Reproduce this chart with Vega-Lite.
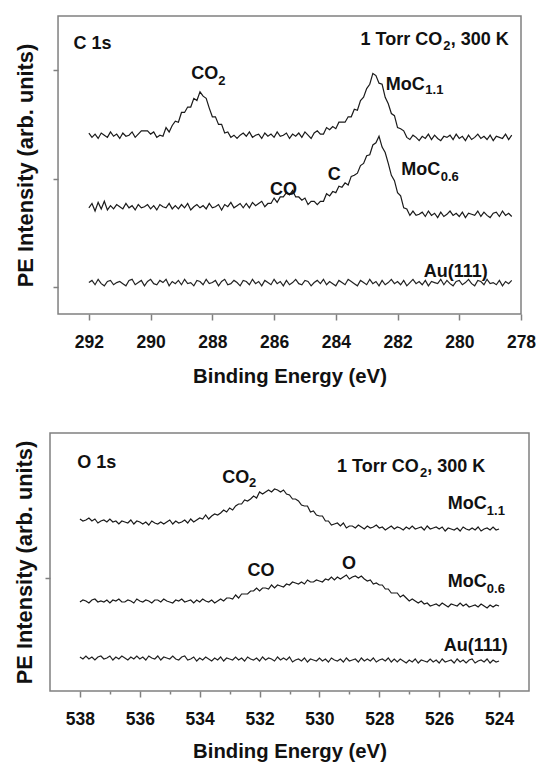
{
"$schema": "https://vega.github.io/schema/vega-lite/v6.json",
"background": "white",
"padding": {"left": 13, "top": 15, "right": 0, "bottom": 0},
"spacing": 45,
"config": {
  "view": {"stroke": "#808080", "strokeWidth": 1.5},
  "font": "Liberation Sans",
  "axis": {"labelFont": "Liberation Sans", "titleFont": "Liberation Sans", "labelFontWeight": "bold", "titleFontWeight": "bold", "labelColor": "#111111", "titleColor": "#111111", "tickColor": "#808080", "tickWidth": 1.5, "domain": false, "grid": false},
  "text": {"font": "Liberation Sans", "fontWeight": "bold", "color": "#111111"}
},
"datasets": {
  "c1s": [
{"e":292.0,"a":142,"b":73,"c":4},{"e":291.9,"a":138,"b":77,"c":6},{"e":291.8,"a":141,"b":70,"c":2},{"e":291.7,"a":137,"b":78,"c":7},{"e":291.6,"a":142,"b":72,"c":3},{"e":291.5,"a":140,"b":79,"c":1},{"e":291.4,"a":138,"b":71,"c":5},{"e":291.3,"a":143,"b":75,"c":6},{"e":291.2,"a":139,"b":72,"c":2},{"e":291.1,"a":141,"b":76,"c":4},
{"e":291.0,"a":137,"b":74,"c":5},{"e":290.9,"a":142,"b":72,"c":3},{"e":290.8,"a":139,"b":77,"c":1},{"e":290.7,"a":140,"b":73,"c":6},{"e":290.6,"a":143,"b":75,"c":7},{"e":290.5,"a":138,"b":71,"c":2},{"e":290.4,"a":141,"b":76,"c":4},{"e":290.3,"a":144,"b":73,"c":6},{"e":290.2,"a":144,"b":74,"c":1},{"e":290.1,"a":144,"b":76,"c":5},
{"e":290.0,"a":141,"b":72,"c":7},{"e":289.9,"a":143,"b":75,"c":3},{"e":289.8,"a":138,"b":71,"c":2},{"e":289.7,"a":140,"b":76,"c":6},{"e":289.6,"a":139,"b":74,"c":4},{"e":289.5,"a":147,"b":73,"c":7},{"e":289.4,"a":143,"b":77,"c":1},{"e":289.3,"a":149,"b":72,"c":5},{"e":289.2,"a":153,"b":75,"c":3},{"e":289.1,"a":152,"b":72,"c":6},
{"e":289.0,"a":161,"b":76,"c":2},{"e":288.9,"a":161,"b":73,"c":7},{"e":288.8,"a":166,"b":77,"c":3},{"e":288.7,"a":166,"b":71,"c":4},{"e":288.6,"a":174,"b":74,"c":1},{"e":288.5,"a":172,"b":76,"c":6},{"e":288.4,"a":180,"b":73,"c":5},{"e":288.3,"a":176,"b":75,"c":2},{"e":288.2,"a":174,"b":72,"c":7},{"e":288.1,"a":165,"b":77,"c":3},
{"e":288.0,"a":157,"b":73,"c":4},{"e":287.9,"a":157,"b":74,"c":6},{"e":287.8,"a":150,"b":76,"c":1},{"e":287.7,"a":150,"b":71,"c":5},{"e":287.6,"a":142,"b":76,"c":7},{"e":287.5,"a":143,"b":74,"c":2},{"e":287.4,"a":138,"b":78,"c":3},{"e":287.3,"a":140,"b":73,"c":6},{"e":287.2,"a":137,"b":75,"c":4},{"e":287.1,"a":140,"b":77,"c":1},
{"e":287.0,"a":142,"b":73,"c":6},{"e":286.9,"a":139,"b":77,"c":5},{"e":286.8,"a":143,"b":73,"c":2},{"e":286.7,"a":138,"b":78,"c":7},{"e":286.6,"a":140,"b":75,"c":3},{"e":286.5,"a":141,"b":77,"c":5},{"e":286.4,"a":137,"b":79,"c":1},{"e":286.3,"a":142,"b":74,"c":6},{"e":286.2,"a":139,"b":77,"c":4},{"e":286.1,"a":141,"b":77,"c":2},
{"e":286.0,"a":138,"b":82,"c":7},{"e":285.9,"a":143,"b":78,"c":3},{"e":285.8,"a":139,"b":83,"c":5},{"e":285.7,"a":140,"b":83,"c":1},{"e":285.6,"a":142,"b":87,"c":6},{"e":285.5,"a":137,"b":85,"c":2},{"e":285.4,"a":141,"b":89,"c":4},{"e":285.3,"a":139,"b":83,"c":7},{"e":285.2,"a":142,"b":83,"c":3},{"e":285.1,"a":138,"b":80,"c":2},
{"e":285.0,"a":143,"b":82,"c":6},{"e":284.9,"a":140,"b":76,"c":5},{"e":284.8,"a":137,"b":79,"c":1},{"e":284.7,"a":142,"b":79,"c":4},{"e":284.6,"a":144,"b":76,"c":6},{"e":284.5,"a":141,"b":79,"c":3},{"e":284.4,"a":141,"b":79,"c":7},{"e":284.3,"a":147,"b":86,"c":2},{"e":284.2,"a":145,"b":84,"c":5},{"e":284.1,"a":148,"b":88,"c":3},
{"e":284.0,"a":146,"b":87,"c":1},{"e":283.9,"a":152,"b":93,"c":6},{"e":283.8,"a":152,"b":92,"c":4},{"e":283.7,"a":152,"b":96,"c":2},{"e":283.6,"a":157,"b":94,"c":7},{"e":283.5,"a":157,"b":102,"c":5},{"e":283.4,"a":164,"b":103,"c":3},{"e":283.3,"a":163,"b":105,"c":1},{"e":283.2,"a":172,"b":112,"c":6},{"e":283.1,"a":175,"b":114,"c":4},
{"e":283.0,"a":183,"b":121,"c":2},{"e":282.9,"a":187,"b":122,"c":7},{"e":282.8,"a":197,"b":131,"c":3},{"e":282.7,"a":195,"b":133,"c":5},{"e":282.6,"a":188,"b":139,"c":1},{"e":282.5,"a":187,"b":129,"c":6},{"e":282.4,"a":175,"b":124,"c":2},{"e":282.3,"a":169,"b":114,"c":4},{"e":282.2,"a":160,"b":103,"c":7},{"e":282.1,"a":158,"b":98,"c":3},
{"e":282.0,"a":147,"b":87,"c":5},{"e":281.9,"a":146,"b":84,"c":2},{"e":281.8,"a":144,"b":73,"c":6},{"e":281.7,"a":138,"b":72,"c":1},{"e":281.6,"a":136,"b":66,"c":4},{"e":281.5,"a":140,"b":70,"c":7},{"e":281.4,"a":138,"b":66,"c":3},{"e":281.3,"a":135,"b":67,"c":5},{"e":281.2,"a":139,"b":69,"c":2},{"e":281.1,"a":137,"b":65,"c":6},
{"e":281.0,"a":141,"b":70,"c":1},{"e":280.9,"a":136,"b":66,"c":5},{"e":280.8,"a":140,"b":68,"c":4},{"e":280.7,"a":137,"b":64,"c":3},{"e":280.6,"a":135,"b":69,"c":7},{"e":280.5,"a":139,"b":65,"c":2},{"e":280.4,"a":138,"b":67,"c":6},{"e":280.3,"a":140,"b":70,"c":3},{"e":280.2,"a":136,"b":66,"c":1},{"e":280.1,"a":141,"b":68,"c":5},
{"e":280.0,"a":137,"b":65,"c":6},{"e":279.9,"a":139,"b":69,"c":2},{"e":279.8,"a":135,"b":64,"c":4},{"e":279.7,"a":140,"b":68,"c":7},{"e":279.6,"a":136,"b":67,"c":3},{"e":279.5,"a":138,"b":66,"c":1},{"e":279.4,"a":141,"b":70,"c":6},{"e":279.3,"a":137,"b":65,"c":5},{"e":279.2,"a":139,"b":69,"c":2},{"e":279.1,"a":136,"b":66,"c":7},
{"e":279.0,"a":140,"b":64,"c":3},{"e":278.9,"a":135,"b":68,"c":4},{"e":278.8,"a":139,"b":69,"c":2},{"e":278.7,"a":138,"b":65,"c":6},{"e":278.6,"a":137,"b":70,"c":1},{"e":278.5,"a":141,"b":66,"c":5},{"e":278.4,"a":136,"b":68,"c":3},{"e":278.3,"a":140,"b":65,"c":6}
  ],
  "o1s": [
{"e":538.0,"a":159,"b":76,"c":21},{"e":537.9,"a":157,"b":78,"c":19},{"e":537.8,"a":158,"b":77,"c":22},{"e":537.7,"a":160,"b":75,"c":19},{"e":537.6,"a":157,"b":78,"c":21},{"e":537.5,"a":159,"b":79,"c":18},{"e":537.4,"a":155,"b":76,"c":21},{"e":537.3,"a":157,"b":77,"c":22},{"e":537.2,"a":158,"b":76,"c":19},{"e":537.1,"a":156,"b":78,"c":20},
{"e":537.0,"a":159,"b":75,"c":22},{"e":536.9,"a":156,"b":78,"c":18},{"e":536.8,"a":157,"b":77,"c":21},{"e":536.7,"a":154,"b":79,"c":19},{"e":536.6,"a":157,"b":76,"c":22},{"e":536.5,"a":156,"b":76,"c":20},{"e":536.4,"a":155,"b":78,"c":18},{"e":536.3,"a":158,"b":77,"c":21},{"e":536.2,"a":154,"b":75,"c":19},{"e":536.1,"a":157,"b":79,"c":22},
{"e":536.0,"a":156,"b":77,"c":19},{"e":535.9,"a":154,"b":76,"c":21},{"e":535.8,"a":156,"b":78,"c":18},{"e":535.7,"a":153,"b":77,"c":22},{"e":535.6,"a":157,"b":75,"c":20},{"e":535.5,"a":155,"b":78,"c":19},{"e":535.4,"a":154,"b":78,"c":22},{"e":535.3,"a":156,"b":76,"c":18},{"e":535.2,"a":154,"b":79,"c":21},{"e":535.1,"a":156,"b":77,"c":20},
{"e":535.0,"a":158,"b":76,"c":19},{"e":534.9,"a":154,"b":75,"c":22},{"e":534.8,"a":157,"b":78,"c":19},{"e":534.7,"a":155,"b":77,"c":18},{"e":534.6,"a":156,"b":79,"c":21},{"e":534.5,"a":158,"b":76,"c":22},{"e":534.4,"a":155,"b":77,"c":18},{"e":534.3,"a":159,"b":78,"c":19},{"e":534.2,"a":156,"b":75,"c":21},{"e":534.1,"a":158,"b":78,"c":17},
{"e":534.0,"a":160,"b":76,"c":20},{"e":533.9,"a":159,"b":79,"c":18},{"e":533.8,"a":163,"b":77,"c":21},{"e":533.7,"a":159,"b":76,"c":19},{"e":533.6,"a":162,"b":78,"c":17},{"e":533.5,"a":164,"b":75,"c":20},{"e":533.4,"a":163,"b":77,"c":18},{"e":533.3,"a":165,"b":79,"c":21},{"e":533.2,"a":168,"b":77,"c":17},{"e":533.1,"a":166,"b":80,"c":20},
{"e":533.0,"a":170,"b":80,"c":19},{"e":532.9,"a":168,"b":79,"c":18},{"e":532.8,"a":172,"b":83,"c":21},{"e":532.7,"a":174,"b":80,"c":18},{"e":532.6,"a":174,"b":84,"c":20},{"e":532.5,"a":178,"b":84,"c":17},{"e":532.4,"a":177,"b":84,"c":21},{"e":532.3,"a":179,"b":87,"c":19},{"e":532.2,"a":182,"b":87,"c":18},{"e":532.1,"a":180,"b":90,"c":20},
{"e":532.0,"a":186,"b":87,"c":17},{"e":531.9,"a":184,"b":90,"c":21},{"e":531.8,"a":186,"b":90,"c":18},{"e":531.7,"a":188,"b":89,"c":20},{"e":531.6,"a":186,"b":93,"c":19},{"e":531.5,"a":189,"b":90,"c":17},{"e":531.4,"a":188,"b":93,"c":21},{"e":531.3,"a":186,"b":92,"c":18},{"e":531.2,"a":188,"b":91,"c":20},{"e":531.1,"a":184,"b":94,"c":18},
{"e":531.0,"a":183,"b":93,"c":21},{"e":530.9,"a":179,"b":96,"c":16},{"e":530.8,"a":179,"b":95,"c":18},{"e":530.7,"a":177,"b":94,"c":19},{"e":530.6,"a":173,"b":96,"c":17},{"e":530.5,"a":172,"b":94,"c":20},{"e":530.4,"a":172,"b":98,"c":16},{"e":530.3,"a":166,"b":96,"c":19},{"e":530.2,"a":167,"b":96,"c":18},{"e":530.1,"a":163,"b":98,"c":17},
{"e":530.0,"a":162,"b":97,"c":20},{"e":529.9,"a":162,"b":96,"c":17},{"e":529.8,"a":157,"b":99,"c":19},{"e":529.7,"a":157,"b":98,"c":16},{"e":529.6,"a":153,"b":101,"c":20},{"e":529.5,"a":154,"b":98,"c":18},{"e":529.4,"a":155,"b":101,"c":17},{"e":529.3,"a":152,"b":99,"c":19},{"e":529.2,"a":155,"b":101,"c":16},{"e":529.1,"a":150,"b":103,"c":20},
{"e":529.0,"a":152,"b":99,"c":17},{"e":528.9,"a":152,"b":101,"c":18},{"e":528.8,"a":150,"b":102,"c":19},{"e":528.7,"a":153,"b":100,"c":16},{"e":528.6,"a":151,"b":102,"c":20},{"e":528.5,"a":149,"b":99,"c":17},{"e":528.4,"a":152,"b":97,"c":19},{"e":528.3,"a":150,"b":98,"c":17},{"e":528.2,"a":151,"b":94,"c":20},{"e":528.1,"a":153,"b":95,"c":16},
{"e":528.0,"a":150,"b":93,"c":18},{"e":527.9,"a":151,"b":93,"c":19},{"e":527.8,"a":148,"b":89,"c":17},{"e":527.7,"a":150,"b":89,"c":20},{"e":527.6,"a":152,"b":85,"c":16},{"e":527.5,"a":149,"b":85,"c":19},{"e":527.4,"a":151,"b":85,"c":16},{"e":527.3,"a":150,"b":81,"c":19},{"e":527.2,"a":148,"b":83,"c":17},{"e":527.1,"a":151,"b":80,"c":15},
{"e":527.0,"a":149,"b":77,"c":18},{"e":526.9,"a":152,"b":79,"c":16},{"e":526.8,"a":149,"b":77,"c":19},{"e":526.7,"a":150,"b":75,"c":15},{"e":526.6,"a":151,"b":77,"c":18},{"e":526.5,"a":148,"b":74,"c":17},{"e":526.4,"a":152,"b":75,"c":16},{"e":526.3,"a":149,"b":72,"c":19},{"e":526.2,"a":150,"b":73,"c":16},{"e":526.1,"a":151,"b":74,"c":18},
{"e":526.0,"a":149,"b":72,"c":15},{"e":525.9,"a":151,"b":75,"c":19},{"e":525.8,"a":147,"b":73,"c":16},{"e":525.7,"a":150,"b":71,"c":17},{"e":525.6,"a":149,"b":74,"c":18},{"e":525.5,"a":148,"b":73,"c":15},{"e":525.4,"a":150,"b":72,"c":19},{"e":525.3,"a":147,"b":75,"c":16},{"e":525.2,"a":151,"b":72,"c":18},{"e":525.1,"a":149,"b":74,"c":15},
{"e":525.0,"a":148,"b":71,"c":18},{"e":524.9,"a":150,"b":72,"c":19},{"e":524.8,"a":148,"b":73,"c":15},{"e":524.7,"a":151,"b":71,"c":17},{"e":524.6,"a":147,"b":74,"c":18},{"e":524.5,"a":149,"b":72,"c":16},{"e":524.4,"a":150,"b":70,"c":19},{"e":524.3,"a":148,"b":73,"c":15},{"e":524.2,"a":151,"b":71,"c":18},{"e":524.1,"a":148,"b":73,"c":16},
{"e":524.0,"a":149,"b":72,"c":17}
  ],
  "c1s_frame": [
{"e1":293,"e2":278,"v1":-25,"v2":250}
  ],
  "c1s_txt": [
{"e":292.5,"v":219.5,"t":"C 1s"},
{"e":283.2,"v":223.2,"t":"1 Torr CO"},
{"e":280.28,"v":223.2,"t":", 300 K"},
{"e":288.68,"v":191.6,"t":"CO"},
{"e":282.38,"v":181.7,"t":"MoC"},
{"e":281.88,"v":103.3,"t":"MoC"},
{"e":284.26,"v":98.7,"t":"C"},
{"e":286.13,"v":84.8,"t":"CO"},
{"e":281.15,"v":9.4,"t":"Au(111)"}
  ],
  "c1s_sub": [
{"e":280.52,"v":218.6,"t":"2"},
{"e":287.81,"v":186.3,"t":"2"},
{"e":281.1,"v":177.6,"t":"1.1"},
{"e":280.6,"v":97.7,"t":"0.6"}
  ],
  "o1s_txt": [
{"e":538.09,"v":210.3,"t":"O 1s"},
{"e":529.41,"v":206.3,"t":"1 Torr CO"},
{"e":526.4,"v":206.3,"t":", 300 K"},
{"e":533.25,"v":195.3,"t":"CO"},
{"e":525.71,"v":168.7,"t":"MoC"},
{"e":532.4,"v":102,"t":"CO"},
{"e":529.25,"v":108.7,"t":"O"},
{"e":525.71,"v":90.7,"t":"MoC"},
{"e":525.85,"v":27.3,"t":"Au(111)"}
  ],
  "o1s_sub": [
{"e":526.64,"v":201.3,"t":"2"},
{"e":532.35,"v":190.7,"t":"2"},
{"e":524.41,"v":163,"t":"1.1"},
{"e":524.41,"v":84.7,"t":"0.6"}
  ]
},
"vconcat": [
  {
    "width": 471, "height": 298,
    "view": {"stroke": null},
    "layer": [
      {"data": {"name": "c1s_frame"},
       "mark": {"type": "rect", "fill": "#ffffff", "fillOpacity": 0, "stroke": "#808080", "strokeWidth": 1.5},
       "encoding": {
         "x": {"field": "e1", "type": "quantitative",
           "scale": {"domain": [278, 293.26], "reverse": true, "nice": false, "zero": false},
           "axis": {"values": [278,279,280,281,282,283,284,285,286,287,288,289,290,291,292],
             "labelExpr": "datum.value % 2 === 0 ? datum.label : ''",
             "tickSize": {"condition": {"test": "datum.value % 2 === 0", "value": 6}, "value": 3},
             "labelFontSize": 17.5, "labelPadding": 13, "labelFlush": false, "labelOverlap": false,
             "title": "Binding Energy (eV)", "titleFontSize": 20.3, "titlePadding": 16, "titleX": 239.5}},
         "x2": {"field": "e2"},
         "y": {"field": "v1", "type": "quantitative",
           "scale": {"domain": [-25, 250], "nice": false, "zero": false},
           "axis": {"values": [0, 100, 200], "labels": false, "tickSize": 5, "offset": -8,
             "title": "PE Intensity (arb. units)", "titleFontSize": 21.8, "titlePadding": 14.5}},
         "y2": {"field": "v2"}
       }},
      {"data": {"name": "c1s"},
       "transform": [{"fold": ["a", "b", "c"], "as": ["s", "v"]}],
       "mark": {"type": "line", "strokeWidth": 1.2},
       "encoding": {
         "x": {"field": "e", "type": "quantitative"},
         "y": {"field": "v", "type": "quantitative"},
         "color": {"field": "s", "type": "nominal", "scale": {"domain": ["a","b","c"], "range": ["#1a1a1a","#1a1a1a","#222222"]}, "legend": null}}},
      {"data": {"name": "c1s_txt"},
       "mark": {"type": "text", "fontSize": 18, "align": "left", "baseline": "alphabetic"},
       "encoding": {"x": {"field": "e", "type": "quantitative"}, "y": {"field": "v", "type": "quantitative"}, "text": {"field": "t"}}},
      {"data": {"name": "c1s_sub"},
       "mark": {"type": "text", "fontSize": 13, "align": "left", "baseline": "alphabetic"},
       "encoding": {"x": {"field": "e", "type": "quantitative"}, "y": {"field": "v", "type": "quantitative"}, "text": {"field": "t"}}}
    ]
  },
  {
    "width": 479, "height": 258,
    "encoding": {
      "x": {"field": "e", "type": "quantitative",
        "scale": {"domain": [523, 539], "reverse": true, "nice": false, "zero": false},
        "axis": {"values": [524,525,526,527,528,529,530,531,532,533,534,535,536,537,538],
          "labelExpr": "datum.value % 2 === 0 ? datum.label : ''",
          "tickSize": {"condition": {"test": "datum.value % 2 === 0", "value": 6}, "value": 3},
          "labelFontSize": 17.5, "labelPadding": 13.5, "labelFlush": false, "labelOverlap": false,
          "title": "Binding Energy (eV)", "titleFontSize": 20.3, "titlePadding": 13}},
      "y": {"field": "v", "type": "quantitative",
        "scale": {"domain": [-13, 245], "nice": false, "zero": false},
        "axis": {"values": [100], "labels": false, "tickSize": 5,
          "title": "PE Intensity (arb. units)", "titleFontSize": 21.8, "titlePadding": 7.5}}
    },
    "layer": [
      {"data": {"name": "o1s"},
       "transform": [{"fold": ["a", "b", "c"], "as": ["s", "v"]}],
       "mark": {"type": "line", "strokeWidth": 1.2},
       "encoding": {"color": {"field": "s", "type": "nominal", "scale": {"domain": ["a","b","c"], "range": ["#1a1a1a","#1a1a1a","#555555"]}, "legend": null}}},
      {"data": {"name": "o1s_txt"},
       "mark": {"type": "text", "fontSize": 18, "align": "left", "baseline": "alphabetic"},
       "encoding": {"text": {"field": "t"}}},
      {"data": {"name": "o1s_sub"},
       "mark": {"type": "text", "fontSize": 13, "align": "left", "baseline": "alphabetic"},
       "encoding": {"text": {"field": "t"}}}
    ]
  }
]
}
